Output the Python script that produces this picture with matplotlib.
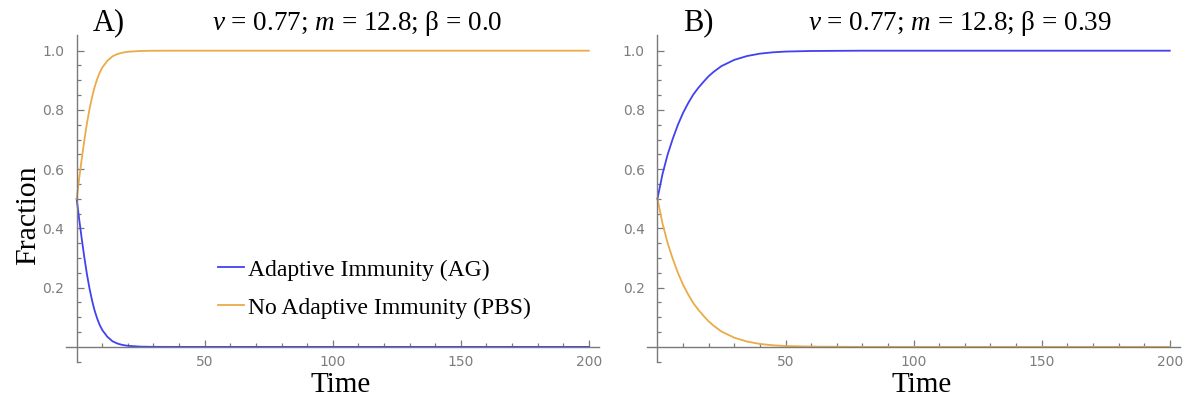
import matplotlib
matplotlib.use('Agg')
import matplotlib.pyplot as plt

plt.rcParams['mathtext.fontset'] = 'custom'
plt.rcParams['mathtext.rm'] = 'Liberation Serif'
plt.rcParams['mathtext.it'] = 'Liberation Serif:italic'

# panel A: beta = 0.0
time_a = [0, 1, 2, 3, 4, 5, 6, 7, 8, 9, 10, 12, 14, 16, 18, 20, 25, 30, 40, 60, 100, 150, 200]
ag_a = [0.5, 0.43, 0.364, 0.302, 0.246, 0.198, 0.157, 0.123, 0.096, 0.074, 0.057, 0.034,
        0.019, 0.011, 0.0064, 0.0037, 0.0009, 0.0002, 0, 0, 0, 0, 0]
pbs_a = [0.5, 0.57, 0.636, 0.698, 0.754, 0.802, 0.843, 0.877, 0.904, 0.926, 0.943, 0.966,
         0.981, 0.989, 0.9936, 0.9963, 0.9991, 0.9998, 1, 1, 1, 1, 1]

# panel B: beta = 0.39
time_b = [0, 2, 4, 6, 8, 10, 12, 14, 16, 18, 20, 22, 25, 30, 35, 40, 45, 50, 60, 80, 120, 160, 200]
ag_b = [0.5, 0.584, 0.65, 0.703, 0.75, 0.79, 0.823, 0.852, 0.875, 0.895, 0.914, 0.929,
        0.948, 0.969, 0.982, 0.99, 0.9945, 0.997, 0.999, 1, 1, 1, 1]
pbs_b = [0.5, 0.416, 0.35, 0.297, 0.25, 0.21, 0.177, 0.148, 0.125, 0.105, 0.086, 0.071,
         0.052, 0.031, 0.018, 0.01, 0.0055, 0.003, 0.001, 0, 0, 0, 0]

panel_labels = ['A)', 'B)']
titles = [r'$v$ = 0.77; $m$ = 12.8; β = 0.0', r'$v$ = 0.77; $m$ = 12.8; β = 0.39']
series_names = ['Adaptive Immunity (AG)', 'No Adaptive Immunity (PBS)']

BLUE = '#4141f2'
ORANGE = '#eaab48'
AXIS = '#7a7a7a'
SERIF = 'Liberation Serif'


def style_axes(ax):
    ax.set_xlim(-4.2, 204)
    ax.set_ylim(-0.052, 1.053)
    for side in ['top', 'right']:
        ax.spines[side].set_visible(False)
    ax.spines['left'].set_position(('data', 0))
    ax.spines['bottom'].set_position(('data', 0))
    for side in ['left', 'bottom']:
        ax.spines[side].set_color(AXIS)
        ax.spines[side].set_linewidth(1.0)
    ax.set_xticks([50, 100, 150, 200])
    ax.set_xticks([t for t in range(10, 201, 10) if t % 50], minor=True)
    ax.set_yticks([0.2, 0.4, 0.6, 0.8, 1.0])
    ax.set_yticks([-0.05, 0.05, 0.1, 0.15, 0.25, 0.3, 0.35, 0.45, 0.5, 0.55, 0.65, 0.7,
                   0.75, 0.85, 0.9, 0.95], minor=True)
    ax.set_yticklabels(['0.2', '0.4', '0.6', '0.8', '1.0'])
    ax.tick_params(which='both', direction='in', color=AXIS, width=0.9,
                   labelcolor='#7d7d7d', labelsize=10)
    ax.tick_params(which='major', length=4.8)
    ax.tick_params(which='minor', length=3)
    ax.tick_params(axis='x', pad=6)
    ax.tick_params(axis='y', pad=9)
    ax.patch.set_visible(False)


fig = plt.figure(figsize=(11.94, 4.04), dpi=100)
ax_a = fig.add_axes([0.0552, 0.1032, 0.4465, 0.8102])
ax_b = fig.add_axes([0.5416, 0.1032, 0.4467, 0.8102])

ax_a.plot(time_a, ag_a, color=BLUE, lw=1.3, label=series_names[0])
ax_a.plot(time_a, pbs_a, color=ORANGE, lw=1.3, label=series_names[1])
ax_b.plot(time_b, ag_b, color=BLUE, lw=1.3)
ax_b.plot(time_b, pbs_b, color=ORANGE, lw=1.3)

for ax in [ax_a, ax_b]:
    style_axes(ax)

leg = ax_a.legend(loc='upper left', bbox_to_anchor=(218 / 1194, 1 - 259 / 404),
                  bbox_transform=fig.transFigure, frameon=False,
                  prop={'family': SERIF, 'size': 17}, handlelength=1.1,
                  handletextpad=0.17, labelspacing=0.7, borderpad=0, borderaxespad=0)

# panel letters and parameter titles
fig.text(93 / 1194, 1 - 30 / 404, panel_labels[0], family=SERIF, fontsize=22)
fig.text(683 / 1194, 1 - 30 / 404, panel_labels[1], family=SERIF, fontsize=22)
fig.text(357 / 1194, 1 - 30 / 404, titles[0], family=SERIF, fontsize=19.5, ha='center')
fig.text(960 / 1194, 1 - 30 / 404, titles[1], family=SERIF, fontsize=19.5, ha='center')

fig.text(28 / 1194, 1 - 215 / 404, 'Fraction', family=SERIF, fontsize=21.5,
         rotation=90, ha='center', va='center')
fig.text(341 / 1194, 1 - 385 / 404, 'Time', family=SERIF, fontsize=21, ha='center', va='center')
fig.text(922 / 1194, 1 - 385 / 404, 'Time', family=SERIF, fontsize=21, ha='center', va='center')

fig.savefig('out.png', dpi=100)
